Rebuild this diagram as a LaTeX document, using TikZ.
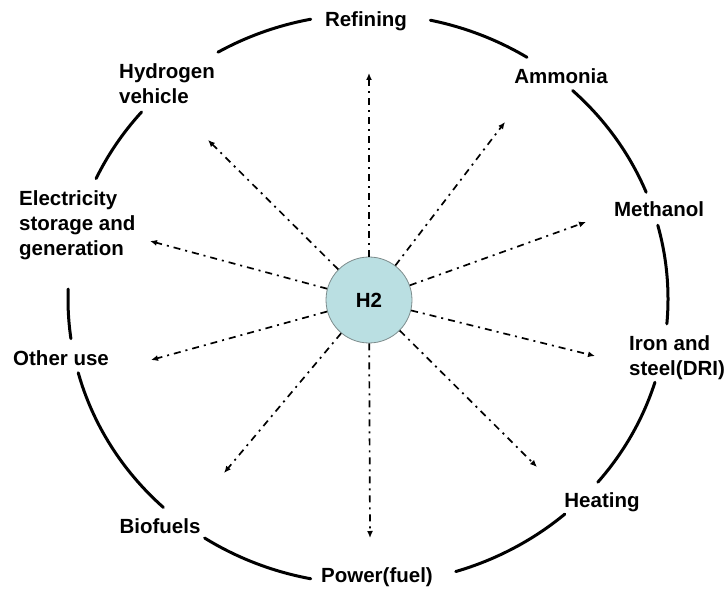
\documentclass[tikz,border=0pt]{standalone}
\usepackage{fontspec}
\setmainfont{Liberation Sans}
\usepackage{xcolor}
\usetikzlibrary{positioning,arrows.meta}

\definecolor{hcyan}{RGB}{186,223,226}
\definecolor{hedge}{RGB}{125,140,140}

\tikzset{
  use/.style={font=\bfseries\fontsize{20.5}{25}\selectfont, inner sep=0pt},
  ring/.style={line width=3pt, line cap=round},
  flow/.style={line width=1.7pt, dash pattern=on 7pt off 5pt on 2pt off 5pt,
               -{Latex[length=7pt,width=6pt]}}
}

\begin{document}
\begin{tikzpicture}[x=1pt, y=1pt, every node/.style={scale=1.0}]
   \useasboundingbox (0,0) rectangle (727,589);

   \coordinate (ctr) at (368,290);
   \node[circle, draw=hedge, fill=hcyan, line width=0.8pt, minimum size=86pt,
         font=\bfseries\fontsize{20.5}{25}\selectfont] (h2) at (369,289) {H2};

   % labels round the ring
   \node[use, anchor=base] (ref) at (366,562) {Refining};
   \node[use, anchor=base] (amm) at (561,505.5) {Ammonia};
   \node[use, anchor=base] (meth) at (659,372) {Methanol};
   \node[use, anchor=west, align=left] (iron) at (629,231.5) {Iron and\\steel(DRI)};
   \node[use, anchor=base] (heat) at (602,82) {Heating};
   \node[use, anchor=base] (pow) at (377,7) {Power(fuel)};
   \node[use, anchor=base] (bio) at (160,55.5) {Biofuels};
   \node[use, anchor=base west] (oth) at (13,223.5) {Other use};
   \node[use, anchor=west, align=left] (elec) at (19,364) {Electricity\\storage and\\generation};
   \node[use, anchor=west, align=left] (veh) at (119,505.5) {Hydrogen\\vehicle};

   % arrow ends
   \coordinate (tRef) at (369,516);
   \coordinate (tAmm) at (505,467);
   \coordinate (tMeth) at (586,367);
   \coordinate (tIron) at (595,233);
   \coordinate (tHeat) at (537,122);
   \coordinate (tPow) at (370,51);
   \coordinate (tBio) at (224,116);
   \coordinate (tOth) at (151,229);
   \coordinate (tElec) at (150,348);
   \coordinate (tVeh) at (208,449);

   \foreach \t in {tRef,tAmm,tMeth,tIron,tHeat,tPow,tBio,tOth,tElec,tVeh}
      \draw[flow] (h2) edge (\t);

   % broken ring
   \foreach \a/\b in {101/120, 58/78, 22/47, -5/15, -40/-17, -73/-49,
                      -123/-101, 195/227, 178/188, 139/155}
      \draw[ring] (ctr) ++(\a:300 and 285) arc (\a:\b:300 and 285);
\end{tikzpicture}
\end{document}
